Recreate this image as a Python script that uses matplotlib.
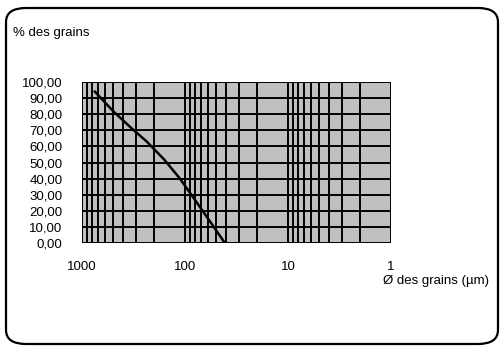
import matplotlib.pyplot as plt
from matplotlib.patches import FancyBboxPatch
from matplotlib.ticker import FixedLocator, FixedFormatter, NullFormatter

plt.rcParams['font.family'] = ['Liberation Sans', 'DejaVu Sans']

# courbe granulométrique
diam = [750, 500, 340, 235, 160, 112, 89, 61, 41]
pct = [94, 82, 72, 63, 52, 40, 31, 16, 0]

x_ticks = [1000, 100, 10, 1]
x_labels = ['1000', '100', '10', '1']
y_ticks = list(range(0, 101, 10))
y_labels = ['%d,00' % v for v in y_ticks]

fig = plt.figure(figsize=(5.04, 3.5), dpi=100)

# cadre arrondi
cadre = FancyBboxPatch((6 / 504, 6 / 350), 492 / 504, 336 / 350,
                       boxstyle='round,pad=0,rounding_size=0.04',
                       transform=fig.transFigure, fill=False,
                       edgecolor='black', linewidth=1.6)
fig.patches.append(cadre)

ax = fig.add_axes([0.1627, 0.3057, 0.613, 0.46])
ax.set_facecolor('#c0c0c0')
ax.set_xscale('log')
ax.set_xlim(1000, 1)
ax.set_ylim(0, 100)

ax.xaxis.set_major_locator(FixedLocator(x_ticks))
ax.xaxis.set_major_formatter(FixedFormatter(x_labels))
minors = [m * 10 ** e for e in range(0, 3) for m in range(2, 10)]
ax.xaxis.set_minor_locator(FixedLocator(minors))
ax.xaxis.set_minor_formatter(NullFormatter())
ax.set_yticks(y_ticks)
ax.set_yticklabels(y_labels)

ax.grid(True, which='both', color='black', linewidth=1.4)
ax.tick_params(which='both', length=0, labelsize=9.5)
ax.tick_params(axis='x', pad=13)
ax.tick_params(axis='y', pad=14)
for s in ax.spines.values():
    s.set_visible(False)

ax.plot(diam, pct, color='black', linewidth=1.8)

fig.text(13 / 504, 1 - 33 / 350, '% des grains', fontsize=9.5, va='center')
fig.text(383 / 504, 1 - 281 / 350, 'Ø des grains (µm)', fontsize=9.5, va='center')

fig.savefig('out.png', dpi=100)
